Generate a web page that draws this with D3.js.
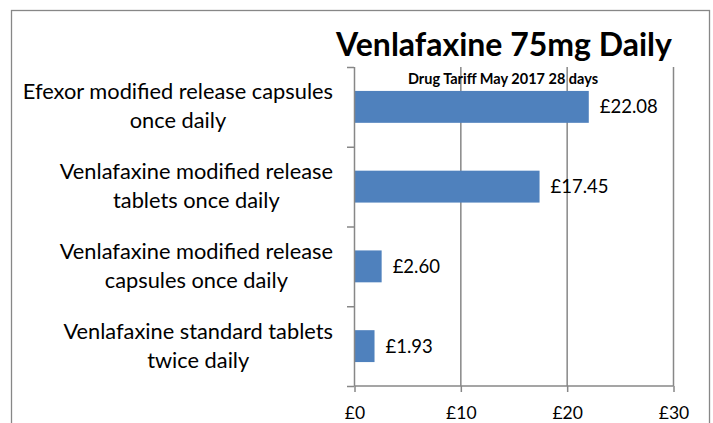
<!DOCTYPE html>
<html><head><meta charset="utf-8">
<script src="https://cdn.jsdelivr.net/npm/d3@7"></script>
<style>
html,body{margin:0;padding:0;background:#fff;}
svg{display:block;font-family:Lato,"Open Sans",sans-serif;}
</style></head>
<body>
<svg id="chart" width="713" height="423"></svg>
<script>
const categories = [
  ["Efexor modified release capsules", "once daily"],
  ["Venlafaxine modified release", "tablets once daily"],
  ["Venlafaxine modified release", "capsules once daily"],
  ["Venlafaxine standard tablets", "twice daily"]
];
const values = [22.08, 17.45, 2.60, 1.93];
const valueLabels = ["£22.08", "£17.45", "£2.60", "£1.93"];
const tickValues = [0, 10, 20, 30];
const tickLabels = ["£0", "£10", "£20", "£30"];
const title = "Venlafaxine 75mg Daily";
const subtitle = "Drug Tariff May 2017 28 days";

(function() {
const svg = d3.select("#chart");
const axisColor = "#878787";
const barColor = "#4F81BD";

// outer border
svg.append("rect").attr("x", 11.5).attr("y", 10.5).attr("width", 698).attr("height", 430)
  .attr("fill", "none").attr("stroke", axisColor).attr("stroke-width", 1.3);

const pLeft = 354, pRight = 673, pTop = 67, pBottom = 386;
const x = d3.scaleLinear().domain([0, 30]).range([pLeft, pRight]);
const idx = categories.map((d, i) => i);
const y = d3.scaleBand().domain(idx).range([pTop, pBottom]).paddingInner(0.6).paddingOuter(0.3);
const yb = d3.scaleBand().domain(idx).range([pTop, pBottom]);

// gridlines
svg.append("g").selectAll("line").data(tickValues.slice(1)).join("line")
  .attr("x1", d => x(d) + 0.5).attr("x2", d => x(d) + 0.5)
  .attr("y1", pTop).attr("y2", pBottom)
  .attr("stroke", axisColor).attr("stroke-width", 1.5);

// bars
svg.append("g").selectAll("rect").data(values).join("rect")
  .attr("x", x(0) + 1).attr("y", (d, i) => y(i))
  .attr("width", d => x(d) - x(0) - 1).attr("height", y.bandwidth())
  .attr("fill", barColor);

// x axis
const xAxis = d3.axisBottom(x).tickValues(tickValues).tickFormat((d, i) => tickLabels[i]).tickSize(6).tickPadding(15);
const gx = svg.append("g").attr("transform", `translate(0.5,${pBottom})`).call(xAxis);
gx.select(".domain").attr("stroke", axisColor).attr("stroke-width", 1.5).attr("d", `M${pLeft},0H${pRight}`);
gx.selectAll(".tick line").attr("stroke", axisColor).attr("stroke-width", 1.5);
gx.selectAll(".tick text").attr("fill", "#000").style("font-size", "17.5px").style("font-family", "Lato");

// y axis line & ticks
svg.append("line").attr("x1", pLeft + 0.5).attr("x2", pLeft + 0.5).attr("y1", pTop).attr("y2", pBottom)
  .attr("stroke", axisColor).attr("stroke-width", 1.5);
const yTicks = idx.map(i => yb(i)).concat([pBottom]);
svg.append("g").selectAll("line").data(yTicks).join("line")
  .attr("x1", pLeft - 7).attr("x2", pLeft).attr("y1", d => d + 0.5).attr("y2", d => d + 0.5)
  .attr("stroke", axisColor).attr("stroke-width", 1.5);

// category labels: each block centred internally, blocks right-aligned
const labelRight = pLeft - 21;
const lab = svg.append("g").selectAll("text").data(categories).join("text")
  .attr("text-anchor", "middle")
  .style("font-size", "21.8px").attr("fill", "#000");
lab.each(function(d, i) {
  const c = yb(i) + yb.bandwidth() / 2;
  const spans = d3.select(this).selectAll("tspan").data(d).join("tspan")
    .attr("x", 0).attr("y", (t, j) => c - 7.5 + j * 29).text(t => t);
  let maxW = 0;
  spans.each(function() { maxW = Math.max(maxW, this.getComputedTextLength()); });
  spans.attr("x", labelRight - maxW / 2);
});

// value labels
svg.append("g").selectAll("text").data(values).join("text")
  .attr("x", d => x(d) + 11).attr("y", (d, i) => y(i) + y.bandwidth() / 2 + 6.5)
  .style("font-size", "18.5px").attr("fill", "#000")
  .text((d, i) => valueLabels[i]);

// title
svg.append("text").attr("x", 504).attr("y", 56).attr("text-anchor", "middle")
  .style("font-size", "32px").style("font-weight", "bold").text(title);
svg.append("text").attr("x", 503).attr("y", 84).attr("text-anchor", "middle")
  .style("font-size", "14.5px").style("font-weight", "bold").text(subtitle);
})();
</script>
</body></html>
